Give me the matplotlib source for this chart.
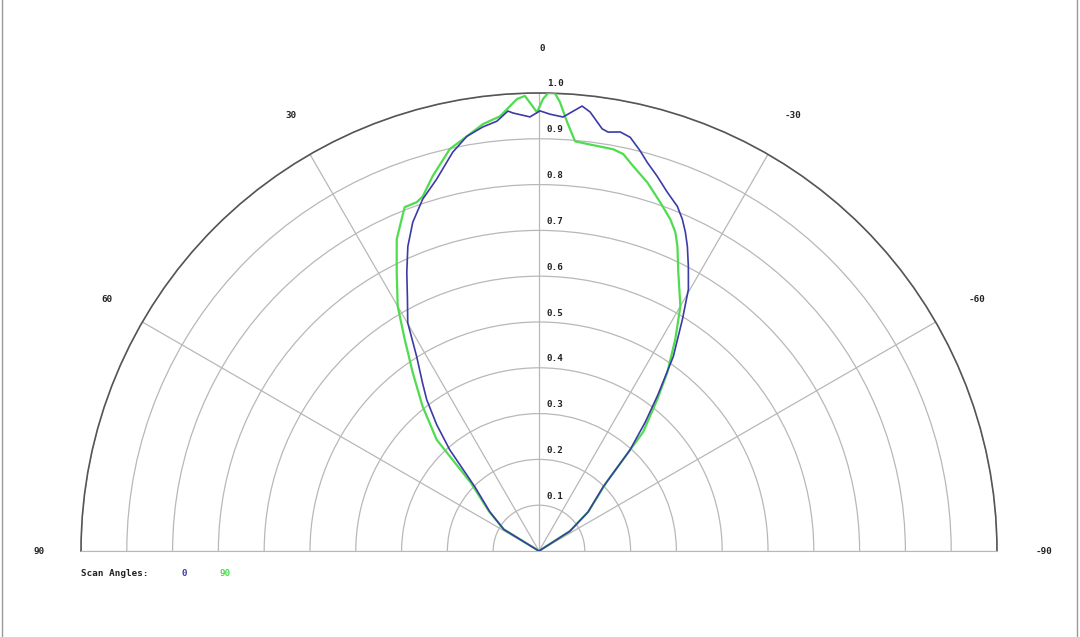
import numpy as np
import matplotlib
matplotlib.use("Agg")
import matplotlib.pyplot as plt
from matplotlib.lines import Line2D

# ---- data (angles in degrees, positive = left of the 0 axis) ----
scan0_angles = [90, 66, 58.5, 51.5, 45, 41.4, 39.0, 36.6, 34.8, 32.2, 29.9, 27.6, 25.4,
                23.3, 21.0, 18.3, 15.4, 12.2, 9.87, 7.54, 5.59, 4.04, 3.4, 1.19, -0.13,
                -1.45, -3.17, -5.53, -6.64, -8.51, -9.37, -10.97, -12.43, -14.2, -15.55,
                -17.5, -19.67, -21.86, -23.37, -24.66, -25.96, -27.68, -29.72, -31.76,
                -34.63, -37.3, -39.5, -42.0, -45.0, -51.5, -57.3, -66, -90]
scan0_values = [0.0, 0.0, 0.09, 0.137, 0.198, 0.295, 0.355, 0.411, 0.445, 0.501, 0.575,
                0.62, 0.673, 0.724, 0.769, 0.809, 0.842, 0.891, 0.919, 0.934, 0.943, 0.963,
                0.958, 0.948, 0.961, 0.954, 0.949, 0.976, 0.965, 0.932, 0.927, 0.932,
                0.925, 0.901, 0.881, 0.858, 0.832, 0.811, 0.789, 0.766, 0.740, 0.702,
                0.658, 0.595, 0.516, 0.428, 0.365, 0.297, 0.198, 0.137, 0.08, 0.0, 0.0]

scan90_angles = [90, 66, 58.5, 51.5, 45, 42.6, 38.85, 35.3, 32.4, 30.0, 27.06, 24.54, 22.5,
                 21.34, 19.32, 18.14, 15.82, 12.51, 9.87, 7.49, 5.13, 2.79, 1.77, 0.26,
                 -0.51, -1.13, -2.0, -2.68, -3.74, -5.03, -6.74, -10.46, -11.98, -13.76,
                 -16.36, -19.17, -21.59, -23.16, -24.42, -26.57, -30.02, -32.8, -35.7,
                 -38.0, -41.2, -44.5, -51.5, -57.3, -66, -90]
scan90_values = [0.0, 0.0, 0.09, 0.14, 0.21, 0.330, 0.405, 0.477, 0.547, 0.617, 0.683,
                 0.748, 0.784, 0.806, 0.807, 0.815, 0.851, 0.899, 0.919, 0.940, 0.953,
                 0.988, 0.994, 0.958, 0.987, 1.0, 1.0, 0.981, 0.939, 0.898, 0.895, 0.892,
                 0.886, 0.865, 0.839, 0.806, 0.779, 0.757, 0.731, 0.680, 0.617, 0.549,
                 0.480, 0.419, 0.345, 0.21, 0.137, 0.08, 0.0, 0.0]

radial_ticks = [0.1, 0.2, 0.3, 0.4, 0.5, 0.6, 0.7, 0.8, 0.9, 1.0]
angle_ticks = [90, 60, 30, 0, -30, -60, -90]
legend_title = "Scan Angles:"
legend_labels = ["0", "90"]

BLUE = "#3b3ba6"
GREEN = "#4fdc4f"
GRID = "#b8b8b8"
FONT = dict(family="DejaVu Sans Mono", fontweight="bold", fontsize=6.7, color="#222222")

W, H = 1080, 637
fig = plt.figure(figsize=(W / 100, H / 100), dpi=100)
fig.patch.set_facecolor("white")

# wedge: centre (539, 551) px, radius 458 px; polar half-wedge is drawn at half
# the box size centred in the box, so the box is doubled around the wedge centre
cx, cy, R = 539, 551, 458
wcy = cy - R / 2
ax = fig.add_axes([(cx - 2 * R) / W, (H - wcy - R) / H, 4 * R / W, 2 * R / H],
                  projection="polar")
ax.set_theta_zero_location("N")
ax.set_theta_direction(1)
ax.set_thetamin(-90)
ax.set_thetamax(90)
ax.set_rlim(0, 1)
ax.set_rticks(radial_ticks)
ax.set_yticklabels([])
ax.set_thetagrids(angle_ticks, labels=[""] * len(angle_ticks))
ax.grid(True, color=GRID, lw=0.9)
ax.spines["polar"].set_color("#555555")
ax.spines["polar"].set_linewidth(1.2)
ax.spines["start"].set_color(GRID)
ax.spines["end"].set_color(GRID)
ax.spines["inner"].set_visible(False)
ax.tick_params(axis="both", length=0)
ax.patch.set_alpha(0)

ax.plot(np.deg2rad(scan90_angles), scan90_values, color=GREEN, lw=1.6, zorder=3)
ax.plot(np.deg2rad(scan0_angles), scan0_values, color=BLUE, lw=1.2, zorder=4)

for r in radial_ticks:
    ax.annotate(f"{r:.1f}", xy=(0, r), xytext=(8, 9), textcoords="offset pixels",
                ha="left", va="center", **FONT)

for a in angle_ticks:
    ax.annotate(str(a), xy=(np.deg2rad(a), 1.097), xytext=(3, 0),
                textcoords="offset pixels", ha="center", va="center",
                annotation_clip=False, **FONT)

fig.text(81 / W, 1 - 573 / H, legend_title, ha="left", va="center", **FONT)
f2 = dict(FONT)
f2.pop("color")
fig.text(184 / W, 1 - 573 / H, legend_labels[0], ha="center", va="center", color=BLUE, **f2)
fig.text(225 / W, 1 - 573 / H, legend_labels[1], ha="center", va="center", color=GREEN, **f2)

fig.add_artist(Line2D([1.5 / W, 1.5 / W], [0, 1], transform=fig.transFigure, color="#9a9a9a", lw=1))
fig.add_artist(Line2D([1077 / W, 1077 / W], [0, 1], transform=fig.transFigure, color="#9a9a9a", lw=1))

fig.savefig("out.png", dpi=100, facecolor="white")
